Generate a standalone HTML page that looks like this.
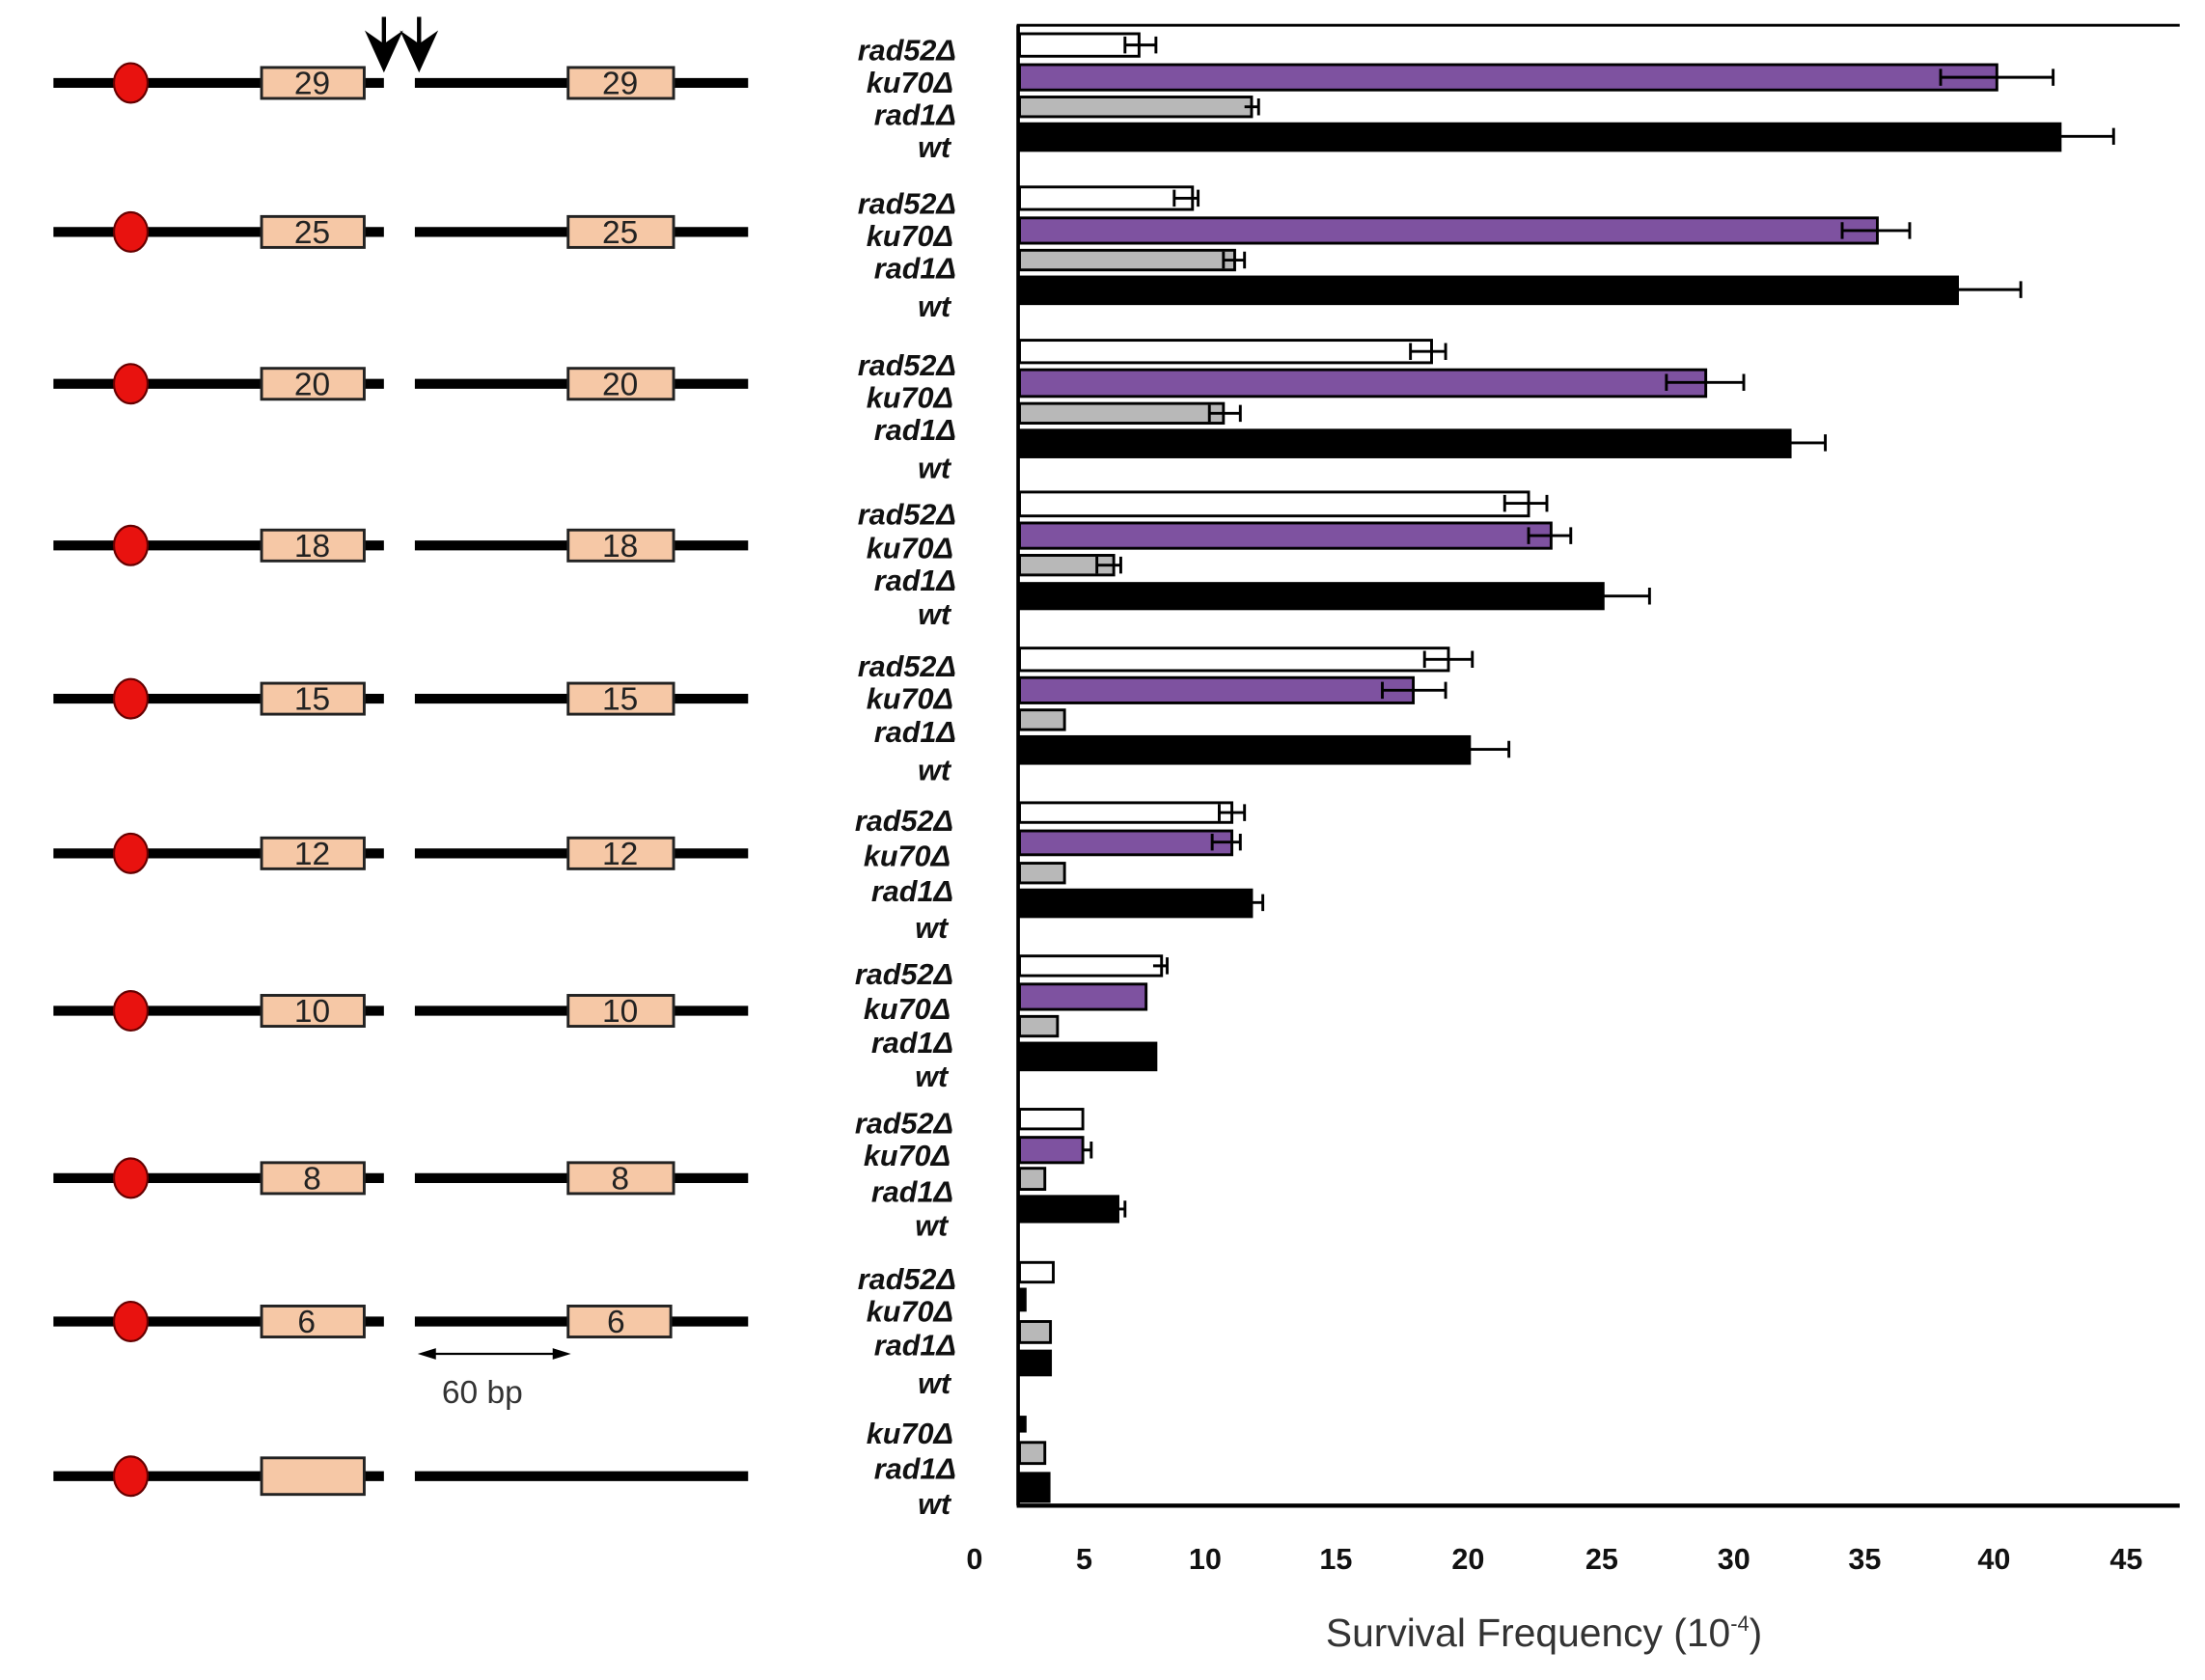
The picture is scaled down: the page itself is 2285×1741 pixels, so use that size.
<!DOCTYPE html>
<html><head><meta charset="utf-8"><style>
html,body{margin:0;padding:0;background:#fff;width:2285px;height:1741px;overflow:hidden}
svg{display:block}
.lb{font-family:"Liberation Sans",sans-serif;font-weight:bold;font-style:italic;font-size:21px;text-anchor:end;fill:#111}
.tk{font-family:"Liberation Sans",sans-serif;font-weight:bold;font-size:21px;text-anchor:middle;fill:#111}
.bx{font-family:"Liberation Sans",sans-serif;font-size:23px;text-anchor:middle;fill:#222}
</style></head><body>
<svg width="2285" height="1741" viewBox="0 0 1568 1195" preserveAspectRatio="none">
<defs>
<g id="row">
<line x1="38" y1="0" x2="273" y2="0" stroke="#000" stroke-width="7"/>
<line x1="295" y1="0" x2="532" y2="0" stroke="#000" stroke-width="7"/>
<ellipse cx="93" cy="0" rx="12" ry="14" fill="#e8120f" stroke="#600" stroke-width="1.5"/>
</g>
</defs>
<g id="diag">
<use href="#row" y="59"/><use href="#row" y="165"/><use href="#row" y="273"/><use href="#row" y="388"/><use href="#row" y="497"/>
<use href="#row" y="607"/><use href="#row" y="719"/><use href="#row" y="838"/><use href="#row" y="940"/><use href="#row" y="1050"/>
<g fill="#f6c8a6" stroke="#222" stroke-width="2">
<rect x="186" y="48" width="73" height="22"/><rect x="404" y="48" width="75" height="22"/>
<rect x="186" y="154" width="73" height="22"/><rect x="404" y="154" width="75" height="22"/>
<rect x="186" y="262" width="73" height="22"/><rect x="404" y="262" width="75" height="22"/>
<rect x="186" y="377" width="73" height="22"/><rect x="404" y="377" width="75" height="22"/>
<rect x="186" y="486" width="73" height="22"/><rect x="404" y="486" width="75" height="22"/>
<rect x="186" y="596" width="73" height="22"/><rect x="404" y="596" width="75" height="22"/>
<rect x="186" y="708" width="73" height="22"/><rect x="404" y="708" width="75" height="22"/>
<rect x="186" y="827" width="73" height="22"/><rect x="404" y="827" width="75" height="22"/>
<rect x="186" y="929" width="73" height="22"/><rect x="404" y="929" width="73" height="22"/>
<rect x="186" y="1037" width="73" height="26"/>
</g>
<text class="bx" x="222" y="67">29</text><text class="bx" x="441" y="67">29</text>
<text class="bx" x="222" y="173">25</text><text class="bx" x="441" y="173">25</text>
<text class="bx" x="222" y="281">20</text><text class="bx" x="441" y="281">20</text>
<text class="bx" x="222" y="396">18</text><text class="bx" x="441" y="396">18</text>
<text class="bx" x="222" y="505">15</text><text class="bx" x="441" y="505">15</text>
<text class="bx" x="222" y="615">12</text><text class="bx" x="441" y="615">12</text>
<text class="bx" x="222" y="727">10</text><text class="bx" x="441" y="727">10</text>
<text class="bx" x="222" y="846">8</text><text class="bx" x="441" y="846">8</text>
<text class="bx" x="218" y="948">6</text><text class="bx" x="438" y="948">6</text>
<g stroke="#000" stroke-width="3" fill="#000">
<line x1="273" y1="12" x2="273" y2="38"/><polygon points="263,26 273,48 283,26 273,33"/>
<line x1="298" y1="12" x2="298" y2="38"/><polygon points="288,26 298,48 308,26 298,33"/>
</g>
<line x1="300" y1="963" x2="403" y2="963" stroke="#000" stroke-width="1.5"/>
<polygon points="297,963 310,959 310,967" fill="#000"/><polygon points="406,963 393,959 393,967" fill="#000"/>
<text x="343" y="998" font-family="Liberation Sans,sans-serif" font-size="23" text-anchor="middle" fill="#333">60 bp</text>
</g>

<g>
<text class="lb" x="680" y="43">rad52Δ</text><text class="lb" x="678" y="66">ku70Δ</text><text class="lb" x="680" y="89">rad1Δ</text><text class="lb" x="676" y="112">wt</text>
<text class="lb" x="680" y="152">rad52Δ</text><text class="lb" x="678" y="175">ku70Δ</text><text class="lb" x="680" y="198">rad1Δ</text><text class="lb" x="676" y="225">wt</text>
<text class="lb" x="680" y="267">rad52Δ</text><text class="lb" x="678" y="290">ku70Δ</text><text class="lb" x="680" y="313">rad1Δ</text><text class="lb" x="676" y="340">wt</text>
<text class="lb" x="680" y="373">rad52Δ</text><text class="lb" x="678" y="397">ku70Δ</text><text class="lb" x="680" y="420">rad1Δ</text><text class="lb" x="676" y="444">wt</text>
<text class="lb" x="680" y="481">rad52Δ</text><text class="lb" x="678" y="504">ku70Δ</text><text class="lb" x="680" y="528">rad1Δ</text><text class="lb" x="676" y="555">wt</text>
<text class="lb" x="678" y="591">rad52Δ</text><text class="lb" x="676" y="616">ku70Δ</text><text class="lb" x="678" y="641">rad1Δ</text><text class="lb" x="674" y="667">wt</text>
<text class="lb" x="678" y="700">rad52Δ</text><text class="lb" x="676" y="725">ku70Δ</text><text class="lb" x="678" y="749">rad1Δ</text><text class="lb" x="674" y="773">wt</text>
<text class="lb" x="678" y="806">rad52Δ</text><text class="lb" x="676" y="829">ku70Δ</text><text class="lb" x="678" y="855">rad1Δ</text><text class="lb" x="674" y="879">wt</text>
<text class="lb" x="680" y="917">rad52Δ</text><text class="lb" x="678" y="940">ku70Δ</text><text class="lb" x="680" y="964">rad1Δ</text><text class="lb" x="676" y="991">wt</text>
<text class="lb" x="678" y="1027">ku70Δ</text><text class="lb" x="680" y="1052">rad1Δ</text><text class="lb" x="676" y="1077">wt</text>
</g>

<g stroke="#000" stroke-width="2">
<rect x="725" y="24" width="85" height="16" fill="#fff"/><rect x="725" y="46" width="695" height="18" fill="#7e52a0"/><rect x="725" y="69" width="165" height="14" fill="#b8b8b8"/><rect x="725" y="88" width="740" height="19" fill="#000"/>
<rect x="725" y="133" width="123" height="16" fill="#fff"/><rect x="725" y="155" width="610" height="18" fill="#7e52a0"/><rect x="725" y="178" width="153" height="14" fill="#b8b8b8"/><rect x="725" y="197" width="667" height="19" fill="#000"/>
<rect x="725" y="242" width="293" height="16" fill="#fff"/><rect x="725" y="263" width="488" height="19" fill="#7e52a0"/><rect x="725" y="287" width="145" height="14" fill="#b8b8b8"/><rect x="725" y="306" width="548" height="19" fill="#000"/>
<rect x="725" y="350" width="362" height="17" fill="#fff"/><rect x="725" y="372" width="378" height="18" fill="#7e52a0"/><rect x="725" y="395" width="67" height="14" fill="#b8b8b8"/><rect x="725" y="415" width="415" height="18" fill="#000"/>
<rect x="725" y="461" width="305" height="16" fill="#fff"/><rect x="725" y="482" width="280" height="18" fill="#7e52a0"/><rect x="725" y="505" width="32" height="14" fill="#b8b8b8"/><rect x="725" y="524" width="320" height="19" fill="#000"/>
<rect x="725" y="571" width="151" height="14" fill="#fff"/><rect x="725" y="591" width="151" height="17" fill="#7e52a0"/><rect x="725" y="614" width="32" height="14" fill="#b8b8b8"/><rect x="725" y="633" width="165" height="19" fill="#000"/>
<rect x="725" y="680" width="101" height="14" fill="#fff"/><rect x="725" y="700" width="90" height="18" fill="#7e52a0"/><rect x="725" y="723" width="27" height="14" fill="#b8b8b8"/><rect x="725" y="742" width="97" height="19" fill="#000"/>
<rect x="725" y="789" width="45" height="14" fill="#fff"/><rect x="725" y="809" width="45" height="18" fill="#7e52a0"/><rect x="725" y="831" width="18" height="15" fill="#b8b8b8"/><rect x="725" y="851" width="70" height="18" fill="#000"/>
<rect x="725" y="898" width="24" height="14" fill="#fff"/><rect x="725" y="917" width="4" height="15" fill="#000"/><rect x="725" y="940" width="22" height="15" fill="#b8b8b8"/><rect x="725" y="961" width="22" height="17" fill="#000"/>
<rect x="725" y="1008" width="4" height="10" fill="#000"/><rect x="725" y="1026" width="18" height="15" fill="#b8b8b8"/><rect x="725" y="1048" width="21" height="20" fill="#000"/>
</g>
<g stroke="#000" stroke-width="2" fill="none">
<path d="M800,32H822M800,26V38M822,26V38"/>
<path d="M1380,55H1460M1380,49V61M1460,49V61"/>
<path d="M885,76H895M895,70V82"/>
<path d="M1465,97H1503M1503,91V103"/>
<path d="M835,141H852M835,135V147M852,135V147"/>
<path d="M1310,164H1358M1310,158V170M1358,158V170"/>
<path d="M870,185H885M870,179V191M885,179V191"/>
<path d="M1392,206H1437M1437,200V212"/>
<path d="M1003,250H1028M1003,244V256M1028,244V256"/>
<path d="M1185,272H1240M1185,266V278M1240,266V278"/>
<path d="M860,294H882M860,288V300M882,288V300"/>
<path d="M1273,315H1298M1298,309V321"/>
<path d="M1070,358H1100M1070,352V364M1100,352V364"/>
<path d="M1087,381H1117M1087,375V387M1117,375V387"/>
<path d="M780,402H797M780,396V408M797,396V408"/>
<path d="M1140,424H1173M1173,418V430"/>
<path d="M1013,469H1047M1013,463V475M1047,463V475"/>
<path d="M983,491H1028M983,485V497M1028,485V497"/>
<path d="M1045,533H1073M1073,527V539"/>
<path d="M867,578H885M867,572V584M885,572V584"/>
<path d="M862,599H882M862,593V605M882,593V605"/>
<path d="M890,642H898M898,636V648"/>
<path d="M820,687H830M830,681V693"/>
<path d="M770,818H776M776,812V824"/>
<path d="M795,860H800M800,854V866"/>
</g>
<line x1="723" y1="18" x2="1550" y2="18" stroke="#000" stroke-width="2"/>
<line x1="724" y1="18" x2="724" y2="1071" stroke="#000" stroke-width="2.5"/>
<line x1="723" y1="1071" x2="1550" y2="1071" stroke="#000" stroke-width="3"/>
<g>
<text class="tk" x="693" y="1116">0</text><text class="tk" x="771" y="1116">5</text><text class="tk" x="857" y="1116">10</text>
<text class="tk" x="950" y="1116">15</text><text class="tk" x="1044" y="1116">20</text><text class="tk" x="1139" y="1116">25</text>
<text class="tk" x="1233" y="1116">30</text><text class="tk" x="1326" y="1116">35</text><text class="tk" x="1418" y="1116">40</text>
<text class="tk" x="1512" y="1116">45</text>
</g>
<text x="1098" y="1171" font-family="Liberation Sans,sans-serif" font-size="28" text-anchor="middle" fill="#333">Survival Frequency (10<tspan font-size="15" dy="-11">-4</tspan><tspan dy="11">)</tspan></text>
</svg>
</body></html>
